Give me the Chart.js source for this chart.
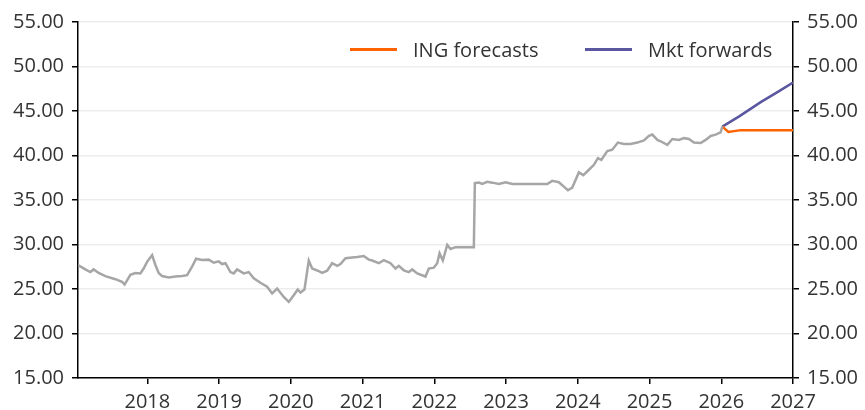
<!DOCTYPE html>
<html>
<head>
<meta charset="utf-8">
<script src="https://cdn.jsdelivr.net/npm/chart.js@4"></script>
<style>
  html, body { margin: 0; padding: 0; background: #fff; }
  #wrap { position: relative; width: 865px; height: 410px; }
  .legend { position: absolute; top: 36px; font: 20px "Open Sans", sans-serif; color: #333; display: flex; align-items: center; white-space: nowrap; }
  .legend span.line { display: inline-block; width: 47px; height: 3px; margin-right: 16px; }
</style>
</head>
<body>
<div id="wrap">
  <canvas id="chart" width="865" height="410"></canvas>
  <div class="legend" style="left:350px"><span class="line" style="background:#ff6200"></span>ING forecasts</div>
  <div class="legend" style="left:585px"><span class="line" style="background:#5a56a0"></span>Mkt forwards</div>
</div>
<script>
// history (decimal years)
const histDates = [2017.033, 2017.135, 2017.205, 2017.251, 2017.321, 2017.414, 2017.554, 2017.647, 2017.683, 2017.763,
  2017.833, 2017.902, 2017.948, 2017.996, 2018.066, 2018.112, 2018.158, 2018.205, 2018.297, 2018.391,
  2018.484, 2018.554, 2018.623, 2018.679, 2018.763, 2018.855, 2018.925, 2018.994, 2019.042, 2019.088,
  2019.158, 2019.204, 2019.251, 2019.343, 2019.413, 2019.483, 2019.576, 2019.669, 2019.739, 2019.809,
  2019.901, 2019.971, 2020.040, 2020.096, 2020.134, 2020.190, 2020.250, 2020.297, 2020.389, 2020.437,
  2020.506, 2020.576, 2020.646, 2020.692, 2020.762, 2020.855, 2020.925, 2021.017, 2021.086, 2021.134,
  2021.226, 2021.296, 2021.389, 2021.459, 2021.505, 2021.575, 2021.644, 2021.692, 2021.762, 2021.877,
  2021.923, 2021.993, 2022.040, 2022.073, 2022.119, 2022.180, 2022.226, 2022.296, 2022.529, 2022.551,
  2022.565, 2022.621, 2022.668, 2022.738, 2022.808, 2022.900, 2022.993, 2023.087, 2023.575, 2023.644,
  2023.736, 2023.806, 2023.862, 2023.923, 2024.015, 2024.077, 2024.155, 2024.225, 2024.280, 2024.328,
  2024.411, 2024.481, 2024.559, 2024.643, 2024.736, 2024.830, 2024.922, 2024.992, 2025.039, 2025.109,
  2025.155, 2025.248, 2025.318, 2025.410, 2025.480, 2025.550, 2025.619, 2025.713, 2025.782, 2025.852,
  2025.921, 2025.991, 2026.015];
const histValues = [27.7, 27.2, 26.9, 27.2, 26.8, 26.45, 26.1, 25.8, 25.5, 26.6,
  26.8, 26.75, 27.3, 28.05, 28.8, 27.7, 26.8, 26.45, 26.3, 26.4,
  26.45, 26.55, 27.5, 28.4, 28.25, 28.3, 27.95, 28.1, 27.8, 27.9,
  26.9, 26.75, 27.2, 26.75, 26.9, 26.2, 25.7, 25.25, 24.5, 25.05,
  24.1, 23.55, 24.3, 24.95, 24.6, 24.95, 28.2, 27.3, 27.0, 26.8,
  27.05, 27.9, 27.6, 27.8, 28.45, 28.55, 28.6, 28.7, 28.3, 28.2,
  27.9, 28.25, 27.9, 27.3, 27.6, 27.1, 26.9, 27.2, 26.75, 26.4,
  27.3, 27.4, 27.9, 29.0, 28.2, 29.95, 29.5, 29.7, 29.7, 29.7,
  36.9, 36.95, 36.8, 37.05, 36.95, 36.8, 37.0, 36.8, 36.8, 37.15,
  37.0, 36.5, 36.1, 36.4, 38.1, 37.8, 38.4, 38.95, 39.7, 39.5,
  40.5, 40.65, 41.45, 41.3, 41.3, 41.45, 41.7, 42.2, 42.35, 41.75,
  41.6, 41.2, 41.85, 41.75, 41.95, 41.85, 41.45, 41.4, 41.75, 42.2,
  42.35, 42.6, 43.25];

const fcDates = [2026.015, 2026.1, 2026.27, 2027.0];
const fcValues = [43.25, 42.65, 42.85, 42.85];

const fwdDates = [2026.015, 2026.25, 2026.55, 2026.8, 2027.0];
const fwdValues = [43.25, 44.4, 46.0, 47.2, 48.2];

const yearTicks = [2018, 2019, 2020, 2021, 2022, 2023, 2024, 2025, 2026, 2027];

const pts = (xs, ys) => xs.map((x, i) => ({ x, y: ys[i] }));
const font = { family: '"Open Sans", sans-serif', size: 20 };

const yAxis = (pos, width) => ({
  type: 'linear',
  position: pos,
  min: 15, max: 55,
  ticks: { stepSize: 5, color: '#333', font, padding: 8, callback: v => v.toFixed(2) },
  grid: { display: true, drawOnChartArea: pos === 'left', color: '#ededed', tickColor: '#000', tickLength: 6, lineWidth: 1.5 },
  border: { display: true, color: '#000', width: 1.5 },
  afterFit: s => { s.width = width; }
});

new Chart(document.getElementById('chart'), {
  type: 'line',
  data: {
    datasets: [
      { label: 'History', data: pts(histDates, histValues), borderColor: '#a6a6a6', borderWidth: 2.5, pointRadius: 0, tension: 0, yAxisID: 'y' },
      { label: 'ING forecasts', data: pts(fcDates, fcValues), borderColor: '#ff6200', borderWidth: 2.5, pointRadius: 0, tension: 0, yAxisID: 'y' },
      { label: 'Mkt forwards', data: pts(fwdDates, fwdValues), borderColor: '#5a56a0', borderWidth: 2.5, pointRadius: 0, tension: 0, yAxisID: 'y' }
    ]
  },
  options: {
    responsive: false,
    animation: false,
    layout: { padding: { top: 22, left: 0, right: 0, bottom: 0 } },
    plugins: { legend: { display: false }, tooltip: { enabled: false } },
    scales: {
      x: {
        type: 'linear',
        min: 2017.033, max: 2027,
        afterBuildTicks: s => { s.ticks = yearTicks.map(v => ({ value: v })); },
        ticks: { color: '#333', font, padding: 6, maxRotation: 0, autoSkip: false, callback: v => String(v) },
        grid: { display: true, drawOnChartArea: false, tickColor: '#000', tickLength: 6, lineWidth: 1.5 },
        border: { display: true, color: '#000', width: 1.5 },
        afterFit: s => { s.height = 32; }
      },
      y: yAxis('left', 78),
      y2: yAxis('right', 72)
    }
  }
});
</script>
</body>
</html>
